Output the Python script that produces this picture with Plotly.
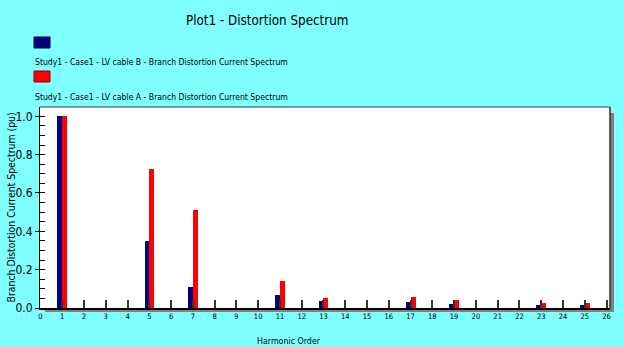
import plotly.graph_objects as go

harmonics = [1, 5, 7, 11, 13, 17, 19, 23, 25]
cable_b = [1.0, 0.349, 0.109, 0.068, 0.036, 0.031, 0.021, 0.016, 0.016]
cable_a = [1.0, 0.724, 0.51, 0.139, 0.054, 0.059, 0.040, 0.028, 0.026]
name_b = "Study1 - Case1 - LV cable B - Branch Distortion Current Spectrum"
name_a = "Study1 - Case1 - LV cable A - Branch Distortion Current Spectrum"
x_ticks = list(range(0, 27))
y_ticks = [0.0, 0.2, 0.4, 0.6, 0.8, 1.0]

FONT = "DejaVu Sans Condensed, Liberation Sans, sans-serif"
W, H = 624, 347
L, R, T, B = 40, 610, 107, 308


def px(x):
    return (x - L) / (R - L)


def py(y):
    return (B - y) / (B - T)


fig = go.Figure()
fig.add_trace(go.Bar(x=harmonics, y=cable_b, name=name_b, width=0.22, offset=-0.22,
                     marker=dict(color="#000080", line=dict(width=0)), showlegend=False))
fig.add_trace(go.Bar(x=harmonics, y=cable_a, name=name_a, width=0.23, offset=0.0,
                     marker=dict(color="#FF0000", line=dict(width=0)), showlegend=False))

shapes = [
    dict(type="rect", xref="paper", yref="paper", x0=px(R), x1=px(R + 4), y0=py(T + 6), y1=py(B + 4),
         fillcolor="#808080", line=dict(width=0), layer="below"),
    dict(type="rect", xref="paper", yref="paper", x0=px(L + 5), x1=px(R + 4), y0=py(B), y1=py(B + 4),
         fillcolor="#808080", line=dict(width=0), layer="below"),
    dict(type="line", xref="paper", yref="paper", x0=0, x1=1, y0=1, y1=1, line=dict(color="#333333", width=1)),
    dict(type="line", xref="paper", yref="paper", x0=1, x1=1, y0=0, y1=1, line=dict(color="#333333", width=1.5)),
    dict(type="rect", xref="paper", yref="paper", x0=px(34), x1=px(50), y0=py(37), y1=py(48),
         fillcolor="#000080", line=dict(color="#000040", width=1)),
    dict(type="rect", xref="paper", yref="paper", x0=px(34), x1=px(50), y0=py(71), y1=py(82),
         fillcolor="#FF0000", line=dict(color="#800000", width=1)),
]

annotations = [
    dict(text="Plot1 - Distortion Spectrum", xref="paper", yref="paper", x=px(267), y=py(21),
         showarrow=False, xanchor="center", yanchor="middle", font=dict(family=FONT, size=13.3, color="#000")),
    dict(text=name_b, xref="paper", yref="paper", x=px(33), y=py(62),
         showarrow=False, xanchor="left", yanchor="middle", font=dict(family=FONT, size=8.6, color="#000")),
    dict(text=name_a, xref="paper", yref="paper", x=px(33), y=py(97),
         showarrow=False, xanchor="left", yanchor="middle", font=dict(family=FONT, size=8.6, color="#000")),
    dict(text="Harmonic Order", xref="paper", yref="paper", x=px(289), y=py(341),
         showarrow=False, xanchor="center", yanchor="middle", font=dict(family=FONT, size=8.8, color="#000")),
    dict(text="Branch Distortion Current Spectrum (pu)", xref="paper", yref="paper", x=px(10.5), y=py(208),
         showarrow=False, xanchor="center", yanchor="middle", textangle=-90,
         font=dict(family=FONT, size=10.4, color="#000")),
]

fig.update_layout(
    width=W, height=H,
    margin=dict(l=L, r=W - R, t=T, b=H - B, pad=0),
    paper_bgcolor="#80FFFF", plot_bgcolor="#FFFFFF",
    barmode="overlay", bargap=0,
    shapes=shapes, annotations=annotations,
    showlegend=False,
)
fig.update_xaxes(range=[-0.02, 26.16], tickmode="array", tickvals=x_ticks, ticktext=[str(v) for v in x_ticks],
                 ticks="inside", ticklen=8, tickcolor="#333333", tickwidth=1.5,
                 showline=True, linecolor="#000000", linewidth=1.5, showgrid=False, zeroline=False,
                 tickfont=dict(family=FONT, size=7.5, color="#000"), fixedrange=True)
fig.update_yaxes(range=[0, 1.0485], tickmode="array", tickvals=y_ticks, ticktext=["%.1f" % v for v in y_ticks],
                 ticks="outside", ticklen=4, tickcolor="#000000", tickwidth=1,
                 minor=dict(tickvals=[i * 0.05 for i in range(21)], ticks="inside", ticklen=5,
                            tickcolor="#000000", tickwidth=1),
                 showline=True, linecolor="#000000", linewidth=1, showgrid=False, zeroline=False,
                 tickfont=dict(family=FONT, size=12, color="#000"), fixedrange=True)

fig.write_html("out.html", config={"displayModeBar": False},
               post_script="document.body.style.margin='0px';")
